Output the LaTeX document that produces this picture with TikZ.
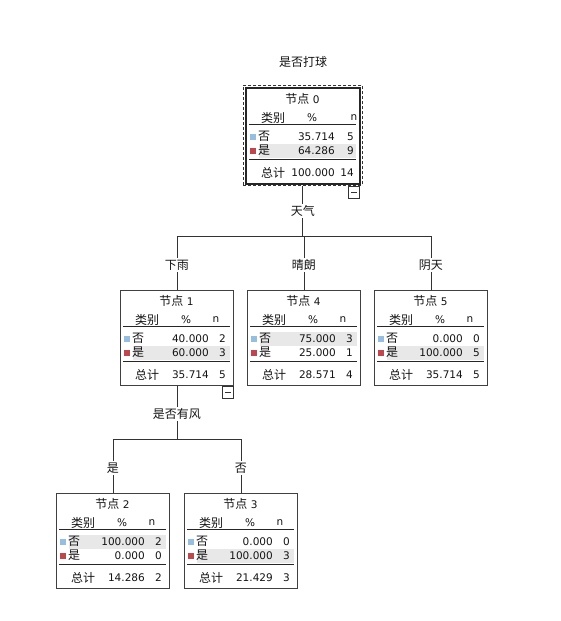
\documentclass[tikz,border=0pt]{standalone}
\usepackage{fontspec}
\setmainfont{DejaVu Sans}
\newfontfamily\cjk{Noto Sans CJK SC}
\definecolor{sqblue}{RGB}{150,190,222}
\definecolor{sqred}{RGB}{190,70,76}
\definecolor{rowshade}{RGB}{232,232,232}
\definecolor{ink}{RGB}{20,20,20}
\tikzset{
  txt/.style={inner sep=0pt, text=ink, font=\fontsize{10.5}{12}\selectfont},
  cj/.style={inner sep=0pt, text=ink, font=\fontsize{12}{14}\selectfont\cjk},
  box/.style={draw=black!75, line width=0.8pt, minimum width=113pt, minimum height=95pt, anchor=north west, inner sep=0pt},
  hlineA/.style={draw=black!85, line width=0.9pt},
  hlineB/.style={draw=black!85, line width=1.6pt},
  conn/.style={draw=black!80, line width=0.8pt},
  lbl/.style={cj, fill=white, inner sep=1.5pt},
  collapse/.style={draw=black!80, line width=0.7pt, minimum width=11pt, minimum height=12pt, inner sep=0pt, anchor=north east}
}
% #1 name, #2 L, #3 T, #4 number, #5 shaded row, #6 p1, #7 n1, #8 p2, #9 n2
\newcommand\treebox[9]{%
  \pgfmathsetmacro\shy{#3+41.5+14*(#5-1)}%
  \fill[rowshade] (#2+13,\shy) rectangle (#2+110,\shy+14);
  \node[box] (#1) at (#2,#3) {};
  \node[txt] (#1-t) at (#2+56.5,#3+11) {{\fontsize{12}{14}\cjk 节点} #4};
  \node[cj] (#1-h1) at (#2+27,#3+30) {类别};
  \node[txt] (#1-h2) at (#2+66,#3+30) {\%};
  \node[txt] (#1-h3) at (#2+\nhx,#3+30) {n};
  \draw[hlineA] (#2+3,#3+36) -- (#2+110,#3+36);
  \fill[sqblue] (#2+4,#3+45.5) rectangle (#2+10,#3+51.5);
  \node[cj] (#1-a) at (#2+18,#3+48.5) {否};
  \node[txt, anchor=east] (#1-ap) at (#2+89,#3+48.5) {#6};
  \node[txt, anchor=east] (#1-an) at (#2+\nvx,#3+48.5) {#7};
  \fill[sqred] (#2+4,#3+59.5) rectangle (#2+10,#3+65.5);
  \node[cj] (#1-b) at (#2+18,#3+62.5) {是};
  \node[txt, anchor=east] (#1-bp) at (#2+89,#3+62.5) {#8};
  \node[txt, anchor=east] (#1-bn) at (#2+\nvx,#3+62.5) {#9};
  \draw[hlineB] (#2+3,#3+71.5) -- (#2+110,#3+71.5);
}
% #1 name, #2 L, #3 T, #4 total p, #5 total n
\newcommand\treetotal[5]{%
  \node[cj] (#1-s) at (#2+27,#3+85) {总计};
  \node[txt, anchor=east] (#1-sp) at (#2+89,#3+85) {#4};
  \node[txt, anchor=east] (#1-sn) at (#2+\nvx,#3+85) {#5};
}
\begin{document}
\begin{tikzpicture}[x=1pt,y=-1pt]
\useasboundingbox (0,0) rectangle (561,621);
\fill[white] (0,0) rectangle (561,621);

\node[cj] (title) at (303,62) {是否打球};

% root node
\def\nhx{108}\def\nvx{108}
\treebox{n0}{246}{88}{0}{2}{35.714}{5}{64.286}{9}
\treetotal{n0}{246}{88}{100.000}{14}
\draw[line width=1.8pt, black!85] (n0.north west) rectangle (n0.south east);
\node[draw=black!80, line width=0.7pt, dash pattern=on 3pt off 2pt, minimum width=119pt, minimum height=100pt, anchor=north west, inner sep=0pt] (n0d) at (243,85) {};
\node[collapse] (c0) at (n0.east |- n0d.south) {};
\draw[black!80, line width=0.7pt] ([xshift=-3pt]c0.center) -- ([xshift=3pt]c0.center);

% level 1
\def\nhx{96}\def\nvx{106}
\treebox{n1}{120}{290}{1}{2}{40.000}{2}{60.000}{3}
\treetotal{n1}{120}{290}{35.714}{5}
\treebox{n4}{247}{290}{4}{1}{75.000}{3}{25.000}{1}
\treetotal{n4}{247}{290}{28.571}{4}
\treebox{n5}{374}{290}{5}{2}{0.000}{0}{100.000}{5}
\treetotal{n5}{374}{290}{35.714}{5}
\node[collapse] (c1) at (n1.south east) {};
\draw[black!80, line width=0.7pt] ([xshift=-3pt]c1.center) -- ([xshift=3pt]c1.center);

% level 2
\treebox{n2}{56}{493}{2}{1}{100.000}{2}{0.000}{0}
\treetotal{n2}{56}{493}{14.286}{2}
\treebox{n3}{184}{493}{3}{2}{0.000}{0}{100.000}{3}
\treetotal{n3}{184}{493}{21.429}{3}

% connectors level 0 -> 1
\coordinate (b0) at (n0d.south |- 0,236);
\draw[conn] (n0d.south) -- (b0);
\draw[conn] (b0 -| n1.north) -- (b0 -| n5.north);
\draw[conn] (b0 -| n1.north) -- (n1.north);
\draw[conn] (b0 -| n4.north) -- (n4.north);
\draw[conn] (b0 -| n5.north) -- (n5.north);
\node[lbl] (l0) at (n0d.south |- 0,211) {天气};
\node[lbl] (l1) at (n1.north |- 0,265) {下雨};
\node[lbl] (l4) at (n4.north |- 0,265) {晴朗};
\node[lbl] (l5) at (n5.north |- 0,265) {阴天};

% connectors level 1 -> 2
\coordinate (b1) at (n1.south |- 0,439);
\draw[conn] (n1.south) -- (b1);
\draw[conn] (b1 -| n2.north) -- (b1 -| n3.north);
\draw[conn] (b1 -| n2.north) -- (n2.north);
\draw[conn] (b1 -| n3.north) -- (n3.north);
\node[lbl] (l1b) at (n1.south |- 0,414) {是否有风};
\node[lbl] (l2) at (n2.north |- 0,468) {是};
\node[lbl] (l3) at (n3.north |- 0,468) {否};
\end{tikzpicture}
\end{document}
